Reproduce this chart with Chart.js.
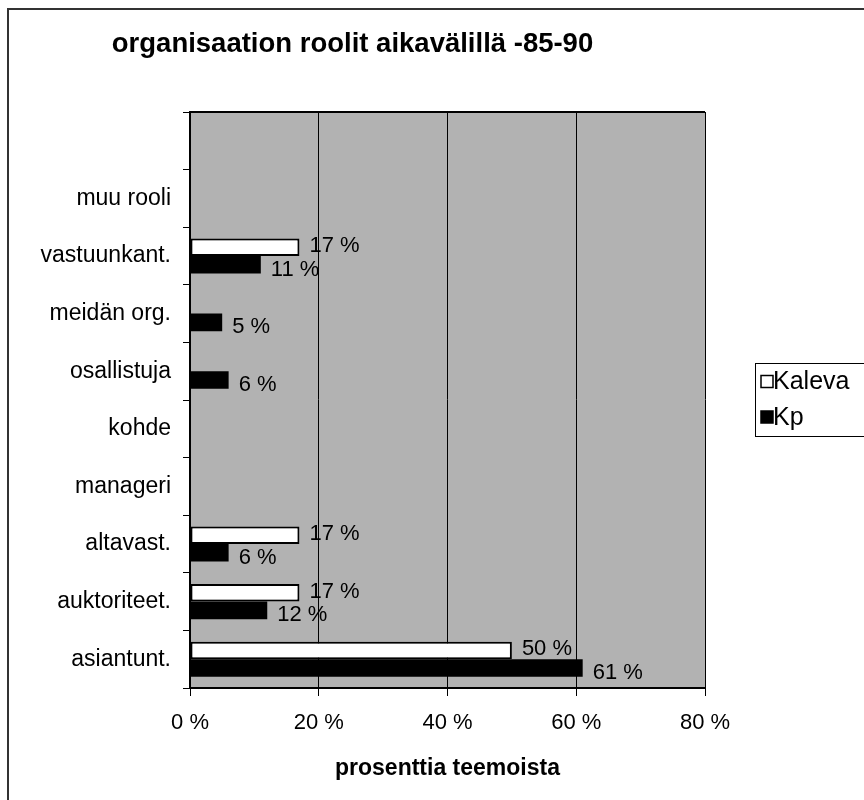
<!DOCTYPE html>
<html>
<head>
<meta charset="utf-8">
<title>organisaation roolit aikavälillä -85-90</title>
<script src="https://cdn.jsdelivr.net/npm/chart.js@4.4.1/dist/chart.umd.min.js"></script>
<style>
    html, body { margin: 0; padding: 0; background: #fff; }
    #wrap { width: 864px; height: 800px; overflow: hidden; position: relative; }
    #myChart { display: block; }
</style>
</head>
<body>
<div id="wrap"><canvas id="myChart" width="920" height="800"></canvas></div>
<script>
// Roles from top to bottom, the first row is left empty
var roles = ["", "muu rooli", "vastuunkant.", "meidän org.", "osallistuja", "kohde", "manageri", "altavast.", "auktoriteet.", "asiantunt."];

// Share of themes (%) per paper
var kaleva = [null, null, 17, null, null, null, null, 17, 17, 50];
var kp = [null, null, 11, 5, 6, null, null, 6, 12, 61];

// Value axis ticks
var xTicks = [0, 20, 40, 60, 80];

var fontFamily = "'Liberation Sans', Arial, Helvetica, sans-serif";
Chart.defaults.font.family = fontFamily;
Chart.defaults.color = "#000";

// Outer frame and the gray plot area
var backdrop = {
    id: "backdrop",
    beforeDraw(chart) {
        const ctx = chart.ctx;
        const area = chart.chartArea;
        ctx.save();
        ctx.fillStyle = "#fff";
        ctx.fillRect(0, 0, chart.width, chart.height);
        ctx.strokeStyle = "#333";
        ctx.lineWidth = 2;
        ctx.strokeRect(8, 9, chart.width - 16, chart.height + 20);
        ctx.fillStyle = "#b2b2b2";
        ctx.fillRect(area.left, area.top, area.right - area.left, area.bottom - area.top);
        ctx.restore();
    },
    afterDraw(chart) {
        const ctx = chart.ctx;
        const area = chart.chartArea;
        ctx.save();
        ctx.strokeStyle = "#000";
        ctx.lineWidth = 2;
        ctx.beginPath();
        ctx.moveTo(area.left, area.top);
        ctx.lineTo(area.right, area.top);
        ctx.stroke();
        ctx.restore();
    }
};

// "17 %" style labels at the end of each bar
var barLabels = {
    id: "barLabels",
    afterDatasetsDraw(chart) {
        const ctx = chart.ctx;
        const shift = [-1, 5];
        ctx.save();
        ctx.font = "22px " + fontFamily;
        ctx.fillStyle = "#000";
        ctx.textAlign = "left";
        ctx.textBaseline = "middle";
        chart.data.datasets.forEach((ds, i) => {
            chart.getDatasetMeta(i).data.forEach((bar, j) => {
                const v = ds.data[j];
                if (v === null) return;
                ctx.fillText(v + " %", bar.x + 10, bar.y + shift[i]);
            });
        });
        ctx.restore();
    }
};

// Boxed legend to the right of the plot
var sideLegend = {
    id: "sideLegend",
    afterDraw(chart) {
        const ctx = chart.ctx;
        const area = chart.chartArea;
        const mid = (area.top + area.bottom) / 2;
        const left = area.right + 50;
        ctx.save();
        ctx.strokeStyle = "#000";
        ctx.lineWidth = 1;
        ctx.fillStyle = "#fff";
        ctx.fillRect(left, mid - 36.5, 200, 73);
        ctx.strokeRect(left + 0.5, mid - 36.5, 200, 73);
        ctx.font = "25px " + fontFamily;
        ctx.textBaseline = "middle";
        chart.data.datasets.forEach((ds, i) => {
            const y = mid - 18.5 + i * 35.5;
            ctx.fillStyle = ds.backgroundColor;
            ctx.fillRect(left + 6, y - 6, 12, 12);
            ctx.lineWidth = 1.5;
            ctx.strokeRect(left + 6, y - 6, 12, 12);
            ctx.fillStyle = "#000";
            ctx.fillText(ds.label, left + 18, y + 1);
        });
        ctx.restore();
    }
};

var myChart = new Chart(document.getElementById("myChart"), {
    type: "bar",
    data: {
        labels: roles,
        datasets: [
            {
                label: "Kaleva",
                data: kaleva,
                backgroundColor: "#fff",
                borderColor: "#000",
                borderWidth: 2,
                borderSkipped: false
            },
            {
                label: "Kp",
                data: kp,
                backgroundColor: "#000",
                borderColor: "#000",
                borderWidth: 0
            }
        ]
    },
    options: {
        indexAxis: "y",
        responsive: false,
        animation: false,
        barPercentage: 1,
        categoryPercentage: 0.61,
        layout: { padding: { left: 0, top: 0, right: 215, bottom: 0 } },
        plugins: {
            legend: { display: false },
            tooltip: { enabled: false },
            title: {
                display: true,
                text: "organisaation roolit aikavälillä -85-90",
                color: "#000",
                font: { size: 27.5, weight: "bold" },
                padding: { top: 27.5, bottom: 51.5 }
            }
        },
        scales: {
            x: {
                type: "linear",
                position: "bottom",
                min: 0,
                max: 80,
                afterBuildTicks: (scale) => {
                    scale.ticks = xTicks.map(v => ({ value: v }));
                },
                afterFit: (scale) => { scale.height = 112; },
                ticks: {
                    callback: (v) => v + " %",
                    font: { size: 22 },
                    color: "#000",
                    padding: 14,
                    maxRotation: 0
                },
                grid: {
                    color: "#000",
                    lineWidth: 1,
                    drawTicks: true,
                    tickLength: 8,
                    tickColor: "#000"
                },
                border: { display: true, color: "#000", width: 2 },
                title: {
                    display: true,
                    text: "prosenttia teemoista",
                    color: "#000",
                    font: { size: 23, weight: "bold" },
                    padding: { top: 0, bottom: 18 }
                }
            },
            y: {
                type: "category",
                position: "left",
                afterFit: (scale) => { scale.width = 190; },
                ticks: {
                    font: { size: 23 },
                    color: "#000",
                    padding: 12,
                    autoSkip: false
                },
                grid: {
                    offset: true,
                    drawOnChartArea: false,
                    drawTicks: true,
                    tickLength: 7,
                    tickColor: "#000",
                    color: "#000"
                },
                border: { display: true, color: "#000", width: 2 }
            }
        }
    },
    plugins: [backdrop, barLabels, sideLegend]
});
</script>
</body>
</html>
